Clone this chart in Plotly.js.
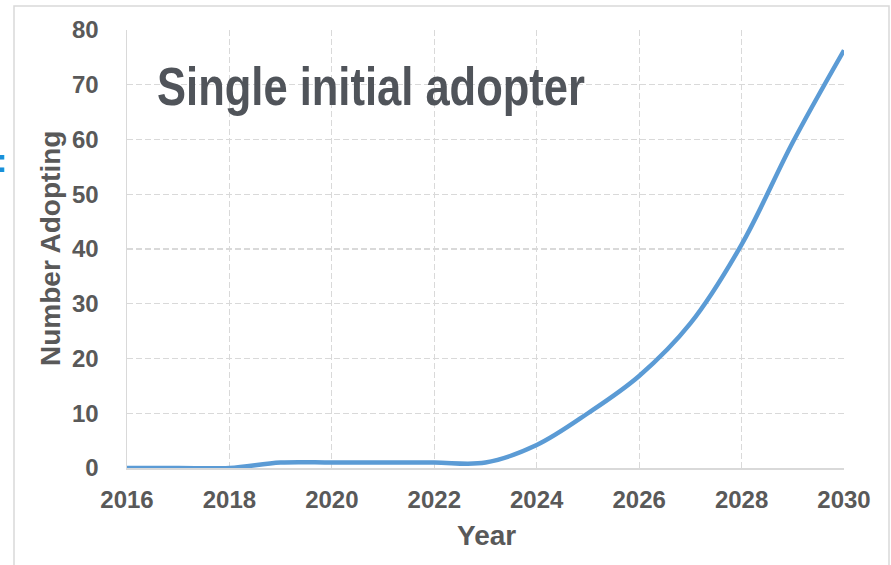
<!DOCTYPE html>
<html>
<head>
<meta charset="utf-8">
<script src="https://cdn.plot.ly/plotly-3.0.1.min.js"></script>
<style>
html,body{margin:0;padding:0;background:#fff;}
#chart{width:891px;height:565px;}
</style>
</head>
<body>
<div id="chart"></div>
<script>
const years = [2016, 2017, 2018, 2019, 2020, 2021, 2022, 2023, 2024, 2025, 2026, 2027, 2028, 2029, 2030];
const adopting = [0, 0, 0, 1, 1, 1, 1, 1, 4.2, 10, 16.8, 26.4, 40.8, 59.5, 76.3];
const xTicks = [2016, 2018, 2020, 2022, 2024, 2026, 2028, 2030];
const yTicks = [0, 10, 20, 30, 40, 50, 60, 70, 80];
const chartTitle = "Single initial adopter";
const xTitle = "Year";
const yTitle = "Number Adopting";

const L = 127, R = 844, T = 30, B = 468;
const W = 891, H = 565;
const px = v => (v - L) / (R - L);
const py = v => (B - v) / (B - T);

const tickFont = {family: "Liberation Sans, Arial, sans-serif", size: 24, color: "#595959", weight: "bold"};

const trace = {
  x: years, y: adopting, type: "scatter", mode: "lines",
  line: {color: "#5b9bd5", width: 4.5, shape: "spline", smoothing: 1},
  hoverinfo: "skip"
};

const layout = {
  width: W, height: H,
  margin: {l: L, r: W - R, t: T, b: H - B},
  paper_bgcolor: "#ffffff", plot_bgcolor: "#ffffff",
  showlegend: false,
  xaxis: {
    range: [2016, 2030], tickvals: xTicks, ticktext: xTicks.map(String),
    tickfont: tickFont, showgrid: true, gridcolor: "#d9d9d9", griddash: "6px,3px", gridwidth: 1.2,
    showline: true, linecolor: "#d9d9d9", linewidth: 1.5, zeroline: false,
    ticks: "", ticklabelstandoff: 10, fixedrange: true
  },
  yaxis: {
    range: [0, 80], tickvals: yTicks, ticktext: yTicks.map(String),
    tickfont: tickFont, showgrid: true, gridcolor: "#d9d9d9", griddash: "6px,3px", gridwidth: 1.2,
    showline: true, linecolor: "#d9d9d9", linewidth: 1.5, zeroline: false,
    ticks: "", ticklabelstandoff: 22, fixedrange: true
  },
  shapes: [
    {type: "rect", xref: "paper", yref: "paper",
     x0: px(14), x1: px(889), y0: py(575), y1: py(6),
     line: {color: "#d9d9d9", width: 1.5}, fillcolor: "rgba(0,0,0,0)", layer: "below"}
  ],
  annotations: [
    {text: chartTitle, xref: "paper", yref: "paper", x: px(155), y: py(86),
     xanchor: "left", yanchor: "middle", showarrow: false,
     font: {family: "Liberation Sans, Arial, sans-serif", size: 53, color: "#50545a", weight: "bold"}},
    {text: "<b>" + xTitle + "</b>", xref: "paper", yref: "paper", x: px(486), y: py(535),
     xanchor: "center", yanchor: "middle", showarrow: false,
     font: {family: "Liberation Sans, Arial, sans-serif", size: 28, color: "#595959"}},
    {text: "<b>" + yTitle + "</b>", xref: "paper", yref: "paper", x: px(50), y: py(249),
     xanchor: "center", yanchor: "middle", showarrow: false, textangle: -90,
     font: {family: "Liberation Sans, Arial, sans-serif", size: 28, color: "#595959"}},
    {text: "<b>:</b>", xref: "paper", yref: "paper", x: px(-6), y: py(160),
     xanchor: "left", yanchor: "middle", showarrow: false,
     font: {family: "Liberation Sans, Arial, sans-serif", size: 34, color: "#1a8fd8"}}
  ]
};

Plotly.newPlot("chart", [trace], layout, {displayModeBar: false, staticPlot: true}).then(function () {
  // condense the big title horizontally (narrow bold face), anchored at its left edge
  const texts = document.querySelectorAll("#chart .annotation-text");
  texts.forEach(function (t) {
    if (t.textContent === chartTitle) {
      const bb = t.getBBox();
      const targetW = 428;
      const s = targetW / bb.width;
      const x0 = bb.x;
      t.setAttribute("transform", "translate(" + x0 + ",0) scale(" + s + ",1) translate(" + (-x0) + ",0)");
    }
  });
});
</script>
</body>
</html>
